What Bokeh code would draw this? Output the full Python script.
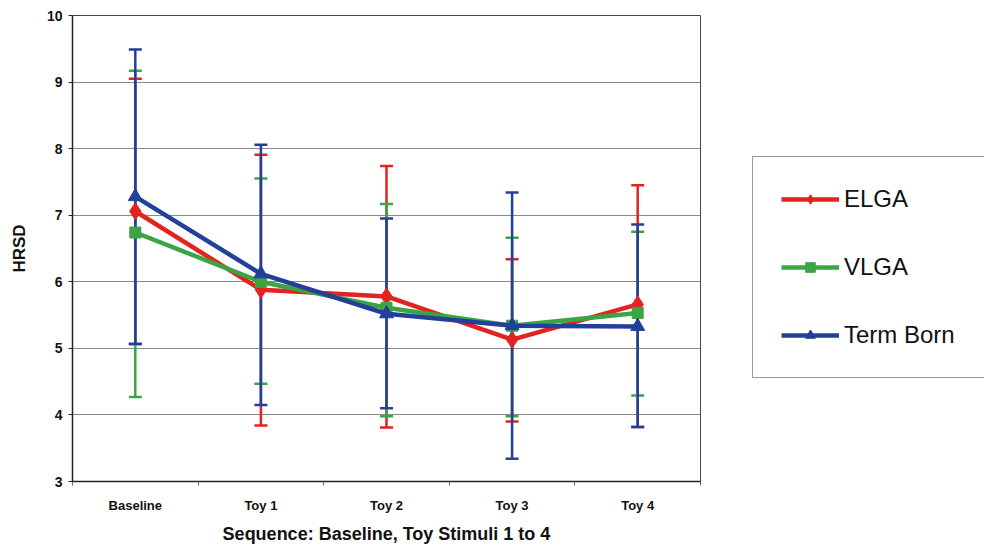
from bokeh.plotting import figure
from bokeh.layouts import row
from bokeh.models import (ColumnDataSource, Range1d, FixedTicker, Whisker, TeeHead,
                          Legend, LegendItem)
from bokeh.embed import file_html
from bokeh.resources import INLINE

categories = ["Baseline", "Toy 1", "Toy 2", "Toy 3", "Toy 4"]
y_ticks = [3, 4, 5, 6, 7, 8, 9, 10]

elga_mean = [7.06, 5.88, 5.78, 5.13, 5.66]
elga_upper = [9.05, 7.91, 7.74, 6.34, 7.45]
elga_lower = [5.06, 3.84, 3.81, 3.90, 3.82]

vlga_mean = [6.74, 6.00, 5.61, 5.34, 5.53]
vlga_upper = [9.17, 7.55, 7.17, 6.66, 6.75]
vlga_lower = [4.27, 4.47, 3.98, 3.98, 4.29]

term_mean = [7.28, 6.12, 5.52, 5.34, 5.33]
term_upper = [9.49, 8.06, 6.95, 7.34, 6.86]
term_lower = [5.07, 4.15, 4.10, 3.34, 3.82]

series = [
    ("ELGA", "#e2231f", "diamond", 17, elga_mean, elga_upper, elga_lower),
    ("VLGA", "#3ba443", "square", 11, vlga_mean, vlga_upper, vlga_lower),
    ("Term Born", "#22409a", "triangle", 14, term_mean, term_upper, term_lower),
]

xs = list(range(1, len(categories) + 1))
FONT = "Liberation Sans"

p = figure(width=701, height=546, output_backend="svg", toolbar_location=None,
           x_range=Range1d(0.5, len(categories) + 0.5), y_range=Range1d(3, 10),
           min_border_left=72, min_border_top=15, min_border_bottom=59, min_border_right=1)
p.background_fill_color = "white"
p.border_fill_color = "white"
p.outline_line_color = "#444444"
p.outline_line_width = 1

p.xgrid.grid_line_color = None
p.ygrid.grid_line_color = "#8a8a8a"
p.ygrid.grid_line_width = 1

# x axis
p.xaxis.ticker = FixedTicker(ticks=xs, minor_ticks=[x - 0.5 for x in xs] + [xs[-1] + 0.5])
p.xaxis.major_label_overrides = {x: c for x, c in zip(xs, categories)}
p.xaxis.major_tick_line_color = None
p.xaxis.major_tick_out = 0
p.xaxis.major_tick_in = 0
p.xaxis.minor_tick_out = 4
p.xaxis.minor_tick_in = 0
p.xaxis.minor_tick_line_color = "#666666"
p.xaxis.axis_line_color = "#222222"
p.xaxis.axis_line_width = 1.5
p.xaxis.major_label_text_font = FONT
p.xaxis.major_label_text_font_style = "bold"
p.xaxis.major_label_text_font_size = "13px"
p.xaxis.major_label_text_color = "#111111"
p.xaxis.major_label_standoff = 12
p.xaxis.axis_label = "Sequence: Baseline, Toy Stimuli 1 to 4"
p.xaxis.axis_label_text_font = FONT
p.xaxis.axis_label_text_font_style = "bold"
p.xaxis.axis_label_text_font_size = "18px"
p.xaxis.axis_label_text_color = "#111111"
p.xaxis.axis_label_standoff = 8

# y axis
p.yaxis.ticker = FixedTicker(ticks=y_ticks, minor_ticks=[])
p.yaxis.major_tick_out = 4
p.yaxis.major_tick_in = 0
p.yaxis.major_tick_line_color = "#222222"
p.yaxis.axis_line_color = "#222222"
p.yaxis.axis_line_width = 1.5
p.yaxis.major_label_text_font = FONT
p.yaxis.major_label_text_font_style = "bold"
p.yaxis.major_label_text_font_size = "14px"
p.yaxis.major_label_text_color = "#111111"
p.yaxis.major_label_standoff = 6
p.yaxis.axis_label = "HRSD"
p.yaxis.axis_label_text_font = FONT
p.yaxis.axis_label_text_font_style = "bold"
p.yaxis.axis_label_text_font_size = "17px"
p.yaxis.axis_label_text_color = "#111111"
p.yaxis.axis_label_standoff = 15

for name, color, marker, size, mean, upper, lower in series:
    src = ColumnDataSource(dict(x=xs, mean=mean, upper=upper, lower=lower))
    w = Whisker(source=src, base="x", upper="upper", lower="lower", dimension="height",
                line_color=color, line_width=2.5,
                upper_head=TeeHead(size=13, line_color=color, line_width=2.5),
                lower_head=TeeHead(size=13, line_color=color, line_width=2.5))
    p.add_layout(w)
for name, color, marker, size, mean, upper, lower in series:
    src = ColumnDataSource(dict(x=xs, mean=mean))
    p.line("x", "mean", source=src, line_color=color, line_width=4.5, line_join="round")
    p.scatter("x", "mean", source=src, marker=marker, size=size,
              fill_color=color, line_color=color)

# legend panel (separate figure to the right of the plot area)
q = figure(width=283, height=546, output_backend="svg", toolbar_location=None,
           x_range=Range1d(0, 1), y_range=Range1d(0, 1),
           min_border_left=0, min_border_right=0, min_border_top=0, min_border_bottom=0)
q.axis.visible = False
q.grid.visible = False
q.outline_line_color = None
q.background_fill_color = "white"
q.border_fill_color = "white"
items = []
nan = float("nan")
for name, color, marker, size, mean, upper, lower in series:
    proxy = ColumnDataSource(dict(x=[nan], y=[nan]))
    lr = q.line("x", "y", source=proxy, line_color=color, line_width=4.5)
    sr = q.scatter("x", "y", source=proxy, marker=marker, size=size - 3,
                   fill_color=color, line_color=color)
    items.append(LegendItem(label=name, renderers=[lr, sr]))

legend = Legend(items=items, location=(51, 103), orientation="vertical")
legend.label_text_font = FONT
legend.label_text_font_size = "24px"
legend.label_text_color = "#111111"
legend.glyph_width = 58
legend.glyph_height = 24
legend.label_height = 24
legend.label_width = 140
legend.label_standoff = 5
legend.spacing = 40
legend.padding = 28
legend.margin = 0
legend.border_line_color = "#333333"
legend.border_line_width = 1
legend.background_fill_color = "white"
legend.background_fill_alpha = 1
q.add_layout(legend, "center")

layout = row(p, q, spacing=0)
open("out.html", "w").write(file_html(layout, INLINE))
